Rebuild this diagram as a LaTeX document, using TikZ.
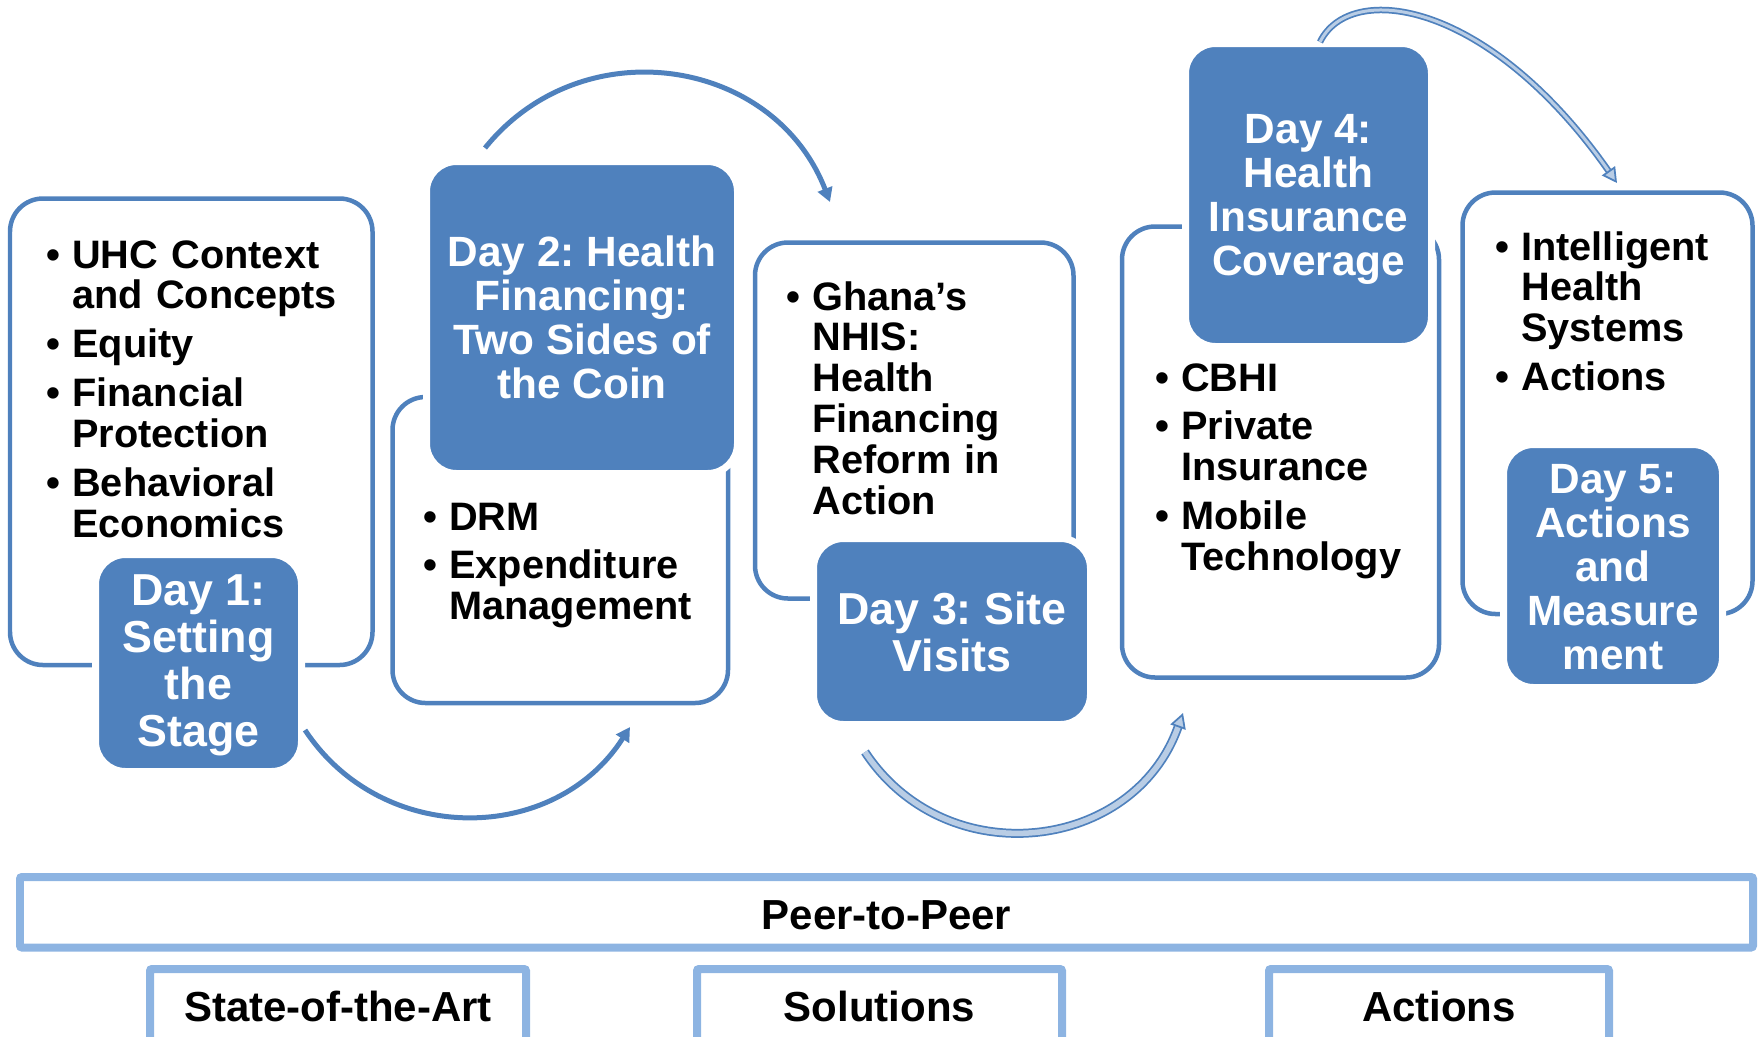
\documentclass[tikz,border=0pt]{standalone}
\usepackage{fontspec}
\setmainfont{Liberation Sans}
\usetikzlibrary{arrows.meta,fit}
\definecolor{dayblue}{RGB}{79,129,189}
\definecolor{paleblue}{RGB}{185,205,229}
\definecolor{bandblue}{RGB}{141,180,226}
\newcommand{\listfont}{\frenchspacing\bfseries\fontsize{22.6}{23.3}\selectfont}
\newcommand{\dayfont}{\frenchspacing\bfseries\fontsize{24.1}{25}\selectfont}
\newcommand{\bigdayfont}{\frenchspacing\bfseries\fontsize{25.5}{26.6}\selectfont}
\newcommand{\bandfont}{\bfseries\fontsize{23.9}{25}\selectfont}
\newcommand{\bul}[1]{\noindent\hangindent=0.52cm\hangafter=1\makebox[0.52cm][l]{\textbullet}#1\par\vspace{4.55pt}}
\begin{document}
\begin{tikzpicture}[x=0.02cm, y=0.02cm,
    frame/.style={draw=dayblue, line width=0.09cm, rounded corners=0.66cm, inner sep=0},
    day/.style={fill=dayblue, draw=white, line width=0.14cm, rounded corners=0.6cm, inner sep=0.07cm},
    daytext/.style={anchor=base, inner sep=0, text=white, align=center, font=\dayfont},
    items/.style={anchor=base west, inner sep=0, text width=8cm, font=\listfont},
    band/.style={draw=bandblue, line width=0.16cm, inner sep=0, rounded corners=0.04cm},
    bandtext/.style={anchor=base, inner sep=0, font=\bandfont},
    flow/.style={draw=dayblue, line width=0.1cm, -{Triangle[length=0.28cm, width=0.3cm]}},
    paleflow/.style={draw=dayblue, line width=0.035cm, double=paleblue, double distance=0.11cm,
        -{Triangle[length=0.3cm, width=0.32cm, fill=paleblue]}}]
    \useasboundingbox (0,0) rectangle (1759,-1036);
    \clip (0,0) rectangle (1759,-1036);
    % outline boxes
    \node[frame, fit={(10,-198.5) (372.5,-665)}] (f1) {};
    \node[frame, fit={(392.5,-397) (728,-703)}] (f2) {};
    \node[frame, fit={(755,-242.5) (1073.5,-598.5)}] (f3) {};
    \node[frame, fit={(1122,-226.5) (1439,-677.5)}] (f4) {};
    \node[frame, fit={(1462.5,-192.5) (1752.5,-614)}] (f5) {};
    % bullet lists
    \node[items] (t1) at (46,-268) {\bul{UHC Context\newline and Concepts}\bul{Equity}\bul{Financial\newline Protection}\bul{Behavioral\newline Economics}};
    \node[items] (t2) at (423,-530) {\bul{DRM}\bul{Expenditure\newline Management}};
    \node[items] (t3) at (786,-310) {\bul{Ghana’s\newline NHIS:\newline Health\newline Financing\newline Reform in\newline Action}};
    \node[items] (t4) at (1155,-391) {\bul{CBHI}\bul{Private\newline Insurance}\bul{Mobile\newline Technology}};
    \node[items] (t5) at (1495,-260) {\bul{Intelligent\newline Health\newline Systems}\bul{Actions}};
    % day boxes (text sits on the baseline of its last line)
    \node[day, fit={(99,-558) (298,-768)}] (d1) {};
    \node[day, fit={(430,-165) (734,-470)}] (d2) {};
    \node[day, fit={(817,-542) (1087,-721)}] (d3) {};
    \node[day, fit={(1189,-47) (1428,-343)}] (d4) {};
    \node[day, fit={(1507,-448) (1719,-684)}] (d5) {};
    \node[daytext, font=\bigdayfont] (d1t) at (198.5,-746) {Day 1:\\Setting\\the\\Stage};
    \node[daytext] (d2t) at (582,-398) {Day 2: Health\\Financing:\\Two Sides of\\the Coin};
    \node[daytext, font=\bigdayfont] (d3t) at (952,-671) {Day 3: Site\\Visits};
    \node[daytext] (d4t) at (1308.5,-275) {Day 4:\\Health\\Insurance\\Coverage};
    \node[daytext] (d5t) at (1613,-669) {Day 5:\\Actions\\and\\Measure\\ment};
    % arrows between days
    \coordinate (a1s) at (305,-730);
    \coordinate (a1e) at (630,-727);
    \coordinate (a2s) at (485,-148);
    \coordinate (a2e) at (830,-202);
    \coordinate (a3s) at (865,-752);
    \coordinate (a3e) at (1183,-713);
    \coordinate (a4s) at (1320,-42);
    \coordinate (a4e) at (1617,-183);
    \draw[flow] (a1s) to[out=-56.5, in=-122.6, looseness=1.1] (a1e);
    \draw[flow] (a2s) to[out=51.1, in=111.1, looseness=1.135] (a2e);
    \draw[paleflow] (a3s) to[out=-56.5, in=-109.5, looseness=1.18] (a3e);
    \draw[paleflow, double distance=0.06cm] (a4s) to[out=64, in=125, out distance=1.38cm, in distance=4.46cm] (a4e);
    % bottom bands
    \node[band, fit={(20,-877) (1753,-947.5)}] (peer) {};
    \node[band, fit={(150,-969) (526,-1042)}] (art) {};
    \node[band, fit={(697,-969) (1062,-1042)}] (sol) {};
    \node[band, fit={(1269,-969) (1609,-1042)}] (act) {};
    \node[bandtext] (peert) at (886.5,-929.5) {Peer-to-Peer};
    \node[bandtext] (artt) at (338,-1021.5) {State-of-the-Art};
    \node[bandtext] (solt) at (879.5,-1021.5) {Solutions};
    \node[bandtext] (actt) at (1439,-1021.5) {Actions};
\end{tikzpicture}
\end{document}
